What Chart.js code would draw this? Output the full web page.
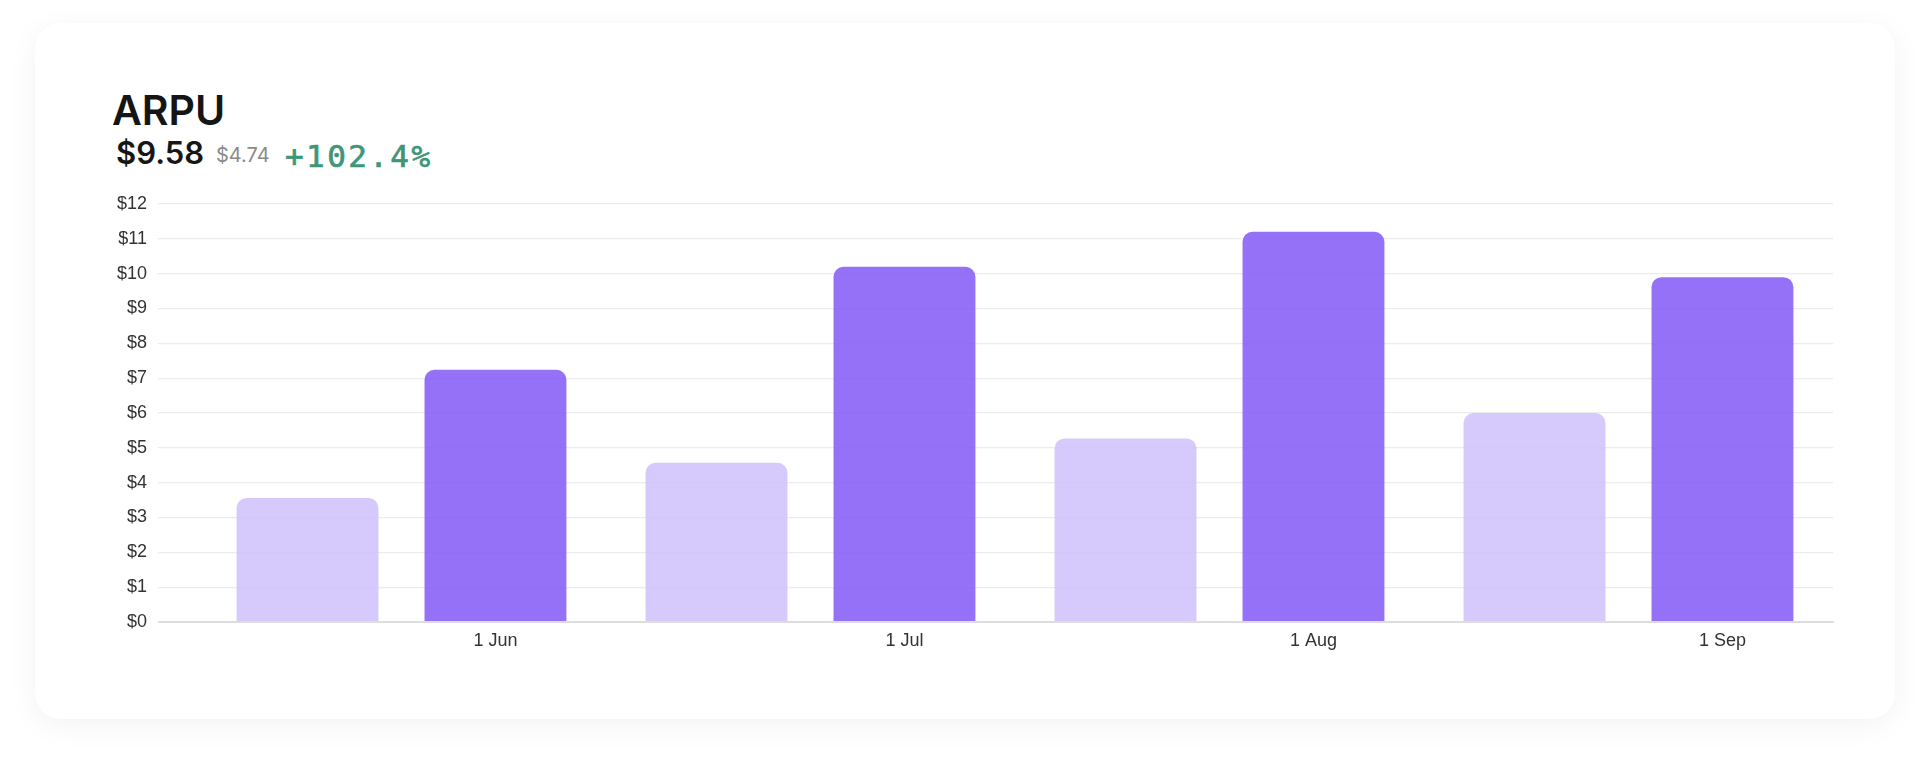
<!DOCTYPE html>
<html>
<head>
<meta charset="utf-8">
<script src="https://cdn.jsdelivr.net/npm/chart.js@4.4.1/dist/chart.umd.min.js"></script>
<style>
  html, body { margin: 0; padding: 0; background: #ffffff; }
  body { width: 1932px; height: 768px; position: relative; overflow: hidden; }
  .card { position: absolute; left: 35px; top: 23px; width: 1860px; height: 696px;
          background: #fff; border-radius: 26px; box-shadow: 0 6px 30px rgba(0,0,0,0.05); }
  .t { position: absolute; white-space: nowrap; line-height: 1; }
  #title { left: 112px; top: 85px; font: 600 41px Inter, "Noto Sans", sans-serif; color: #151515; }
  #cur { left: 116px; top: 134px; font: 600 31px Inter, "Noto Sans", sans-serif; color: #161616; }
  #prev { left: 216px; top: 143px; font: 400 20px Inter, "Noto Sans", sans-serif; color: #8a8a8a; }
  #chg { left: 285px; top: 138px; font: 400 31px "DejaVu Sans Mono", monospace; color: #3f9677;
         letter-spacing: 2.4px; -webkit-text-stroke: 0.7px #3f9677; }
  #wrap { position: absolute; left: 0; top: 0; width: 1932px; height: 768px; }
</style>
</head>
<body>
<div class="card"></div>
<div class="t" id="title">ARPU</div>
<div class="t" id="cur">$9.58</div>
<div class="t" id="prev">$4.74</div>
<div class="t" id="chg">+102.4%</div>
<div id="wrap"><canvas id="c" width="1932" height="768"></canvas></div>
<script>
const categories = ["1 Jun", "1 Jul", "1 Aug", "1 Sep"];
const previousValues = [3.56, 4.57, 5.27, 6.0];
const currentValues = [7.24, 10.2, 11.2, 9.9];
const yTickValues = [0, 1, 2, 3, 4, 5, 6, 7, 8, 9, 10, 11, 12];

const ctx = document.getElementById('c').getContext('2d');
new Chart(ctx, {
  type: 'bar',
  data: {
    labels: categories,
    datasets: [
      { label: 'Previous', data: previousValues, backgroundColor: 'rgba(209,195,252,0.9)',
        borderRadius: { topLeft: 10, topRight: 10 }, borderSkipped: 'bottom',
        categoryPercentage: 0.919, barPercentage: 0.755 },
      { label: 'Current', data: currentValues, backgroundColor: 'rgba(138,98,247,0.9)',
        borderRadius: { topLeft: 10, topRight: 10 }, borderSkipped: 'bottom',
        categoryPercentage: 0.919, barPercentage: 0.755 }
    ]
  },
  options: {
    responsive: false,
    animation: false,
    layout: { padding: { left: 100, right: 99, top: 204, bottom: 106 } },
    plugins: { legend: { display: false }, tooltip: { enabled: false } },
    scales: {
      x: {
        offset: true,
        grid: { display: false, drawTicks: false },
        border: { display: true, color: '#dddddd', width: 2 },
        ticks: { color: '#333333', font: { family: '"Liberation Sans", Arial, sans-serif', size: 18 },
                 padding: 8, labelOffset: 94, maxRotation: 0 },
        afterFit: (s) => { s.height = 40; }
      },
      y: {
        min: 0, max: 12,
        afterBuildTicks: (s) => { s.ticks = yTickValues.map(v => ({ value: v })); },
        grid: {
          color: (c) => (c.tick && c.tick.value === 0) ? '#dddddd' : '#ececec',
          lineWidth: (c) => (c.tick && c.tick.value === 0) ? 2 : 1.2,
          tickLength: 39, drawTicks: true
        },
        border: { display: false },
        ticks: { color: '#333333', font: { family: '"Liberation Sans", Arial, sans-serif', size: 18 },
                 padding: 11, callback: (v) => '$' + v },
        afterFit: (s) => { s.width = 97; }
      }
    }
  }
});
</script>
</body>
</html>
